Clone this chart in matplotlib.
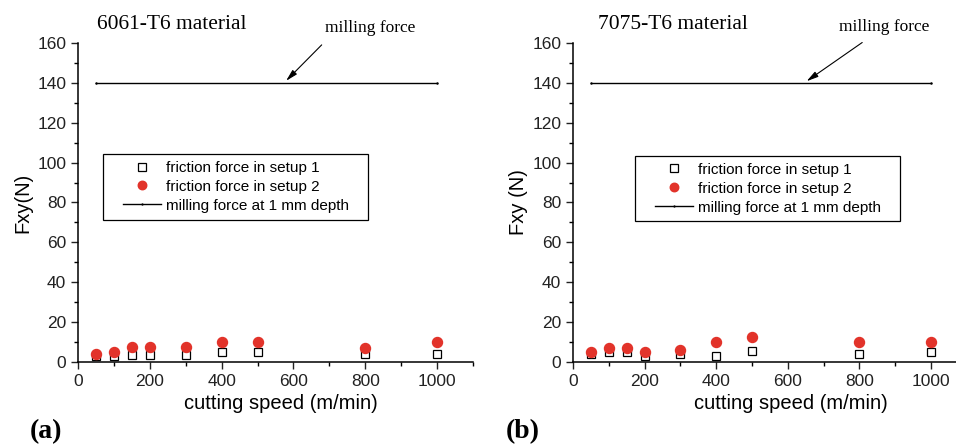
import numpy as np
import matplotlib
matplotlib.use("Agg")
import matplotlib.pyplot as plt
from matplotlib.ticker import MultipleLocator
from matplotlib.patches import Rectangle

plt.rcParams['font.family'] = ['Liberation Sans', 'DejaVu Sans']

# --- data ---
speed = [50, 100, 150, 200, 300, 400, 500, 800, 1000]

setup1_6061 = [2.8, 2.8, 3.3, 3.3, 3.3, 5.0, 5.0, 4.2, 4.2]
setup2_6061 = [4.2, 5.0, 7.5, 7.5, 7.5, 10.0, 10.0, 7.0, 10.0]

setup1_7075 = [3.8, 5.0, 5.0, 2.8, 3.8, 3.0, 5.8, 4.2, 5.0]
setup2_7075 = [5.0, 7.0, 7.0, 5.0, 6.2, 10.0, 12.5, 10.0, 10.0]

milling_speed = [50, 1000]
milling_force = [140, 140]

titles = ["6061-T6 material", "7075-T6 material"]
ylabels = ["Fxy(N)", "Fxy (N)"]
panel_tags = ["(a)", "(b)"]
legend_labels = ["friction force in setup 1", "friction force in setup 2",
                 "milling force at 1 mm depth"]

red = '#e2332a'

fig = plt.figure(figsize=(9.56, 4.47), dpi=100)

panels = [
    dict(pos=[0.0816, 0.190, 0.4132, 0.714], s1=setup1_6061, s2=setup2_6061,
         arrow_tip=(574, 140), arrow_start=(684, 160), text_xy=(814, 167.5),
         title_x=0.048, ylab_x=-0.116, xlab_x=0.514, legend_anchor=(0.096, 0.652),
         tag_xy=(30 / 956, 3 / 447)),
    dict(pos=[0.5994, 0.190, 0.412, 0.714], s1=setup1_7075, s2=setup2_7075,
         arrow_tip=(646, 140), arrow_start=(814, 161), text_xy=(870, 168),
         title_x=0.063, ylab_x=-0.115, xlab_x=0.553, legend_anchor=(0.19, 0.646),
         tag_xy=(506 / 956, 3 / 447)),
]

axes = []
legends = []
for i, p in enumerate(panels):
    ax = fig.add_axes(p['pos'])
    axes.append(ax)
    ax.plot(speed, p['s1'], marker='s', linestyle='none', mfc='white', mec='black',
            mew=0.9, ms=6, label=legend_labels[0], zorder=3)
    ax.plot(speed, p['s2'], marker='o', linestyle='none', mfc=red, mec=red,
            ms=7.2, label=legend_labels[1], zorder=4)
    ax.plot(milling_speed, milling_force, color='black', lw=1.0, marker='.',
            ms=1.5, label=legend_labels[2])

    ax.set_xlim(0, 1100)
    ax.set_ylim(0, 160)
    ax.xaxis.set_major_locator(MultipleLocator(200))
    ax.xaxis.set_minor_locator(MultipleLocator(100))
    ax.yaxis.set_major_locator(MultipleLocator(20))
    ax.yaxis.set_minor_locator(MultipleLocator(10))
    ax.set_xticks([0, 200, 400, 600, 800, 1000])
    ax.spines['top'].set_visible(False)
    ax.spines['right'].set_visible(False)
    ax.tick_params(which='major', direction='out', length=5, width=1, labelsize=12.5,
                   colors='#222222')
    ax.tick_params(which='minor', direction='out', length=3, width=1)
    for s in ['left', 'bottom']:
        ax.spines[s].set_linewidth(1.1)

    ax.set_xlabel("cutting speed (m/min)", fontsize=14.5)
    ax.xaxis.set_label_coords(p['xlab_x'], -0.1)
    ax.set_ylabel(ylabels[i], fontsize=14.5)
    ax.yaxis.set_label_coords(p['ylab_x'], 0.5)

    ax.text(p['title_x'], 1.058, titles[i], transform=ax.transAxes,
            fontsize=15.5, family='Liberation Serif', ha='left', va='center')

    ax.annotate("", xy=p['arrow_tip'], xytext=p['arrow_start'],
                arrowprops=dict(arrowstyle='-|>,head_length=0.7,head_width=0.18',
                                color='black', lw=0.8, mutation_scale=10),
                annotation_clip=False)
    ax.text(p['text_xy'][0], p['text_xy'][1], "milling force", ha='center',
            va='center', fontsize=12.5, family='Liberation Serif', clip_on=False)

    leg = ax.legend(loc='upper left', bbox_to_anchor=p['legend_anchor'],
                    fontsize=11, frameon=False, borderpad=0.45, borderaxespad=0,
                    handlelength=2.5, handletextpad=0.3, labelspacing=0.32,
                    markerscale=0.85)
    legends.append(leg)

    fig.text(p['tag_xy'][0], p['tag_xy'][1], panel_tags[i], fontsize=20,
             family='Liberation Serif', fontweight='bold', ha='left', va='bottom')

# legend box: wider side padding than matplotlib's uniform borderpad
fig.canvas.draw()
renderer = fig.canvas.get_renderer()
for leg in legends:
    bb = leg.get_window_extent(renderer)
    fig.patches.append(Rectangle((bb.x0 - 13, bb.y0), bb.width + 26, bb.height,
                                 transform=None, fill=False, edgecolor='black',
                                 linewidth=0.9, figure=fig))

fig.savefig("out.png", dpi=100)
